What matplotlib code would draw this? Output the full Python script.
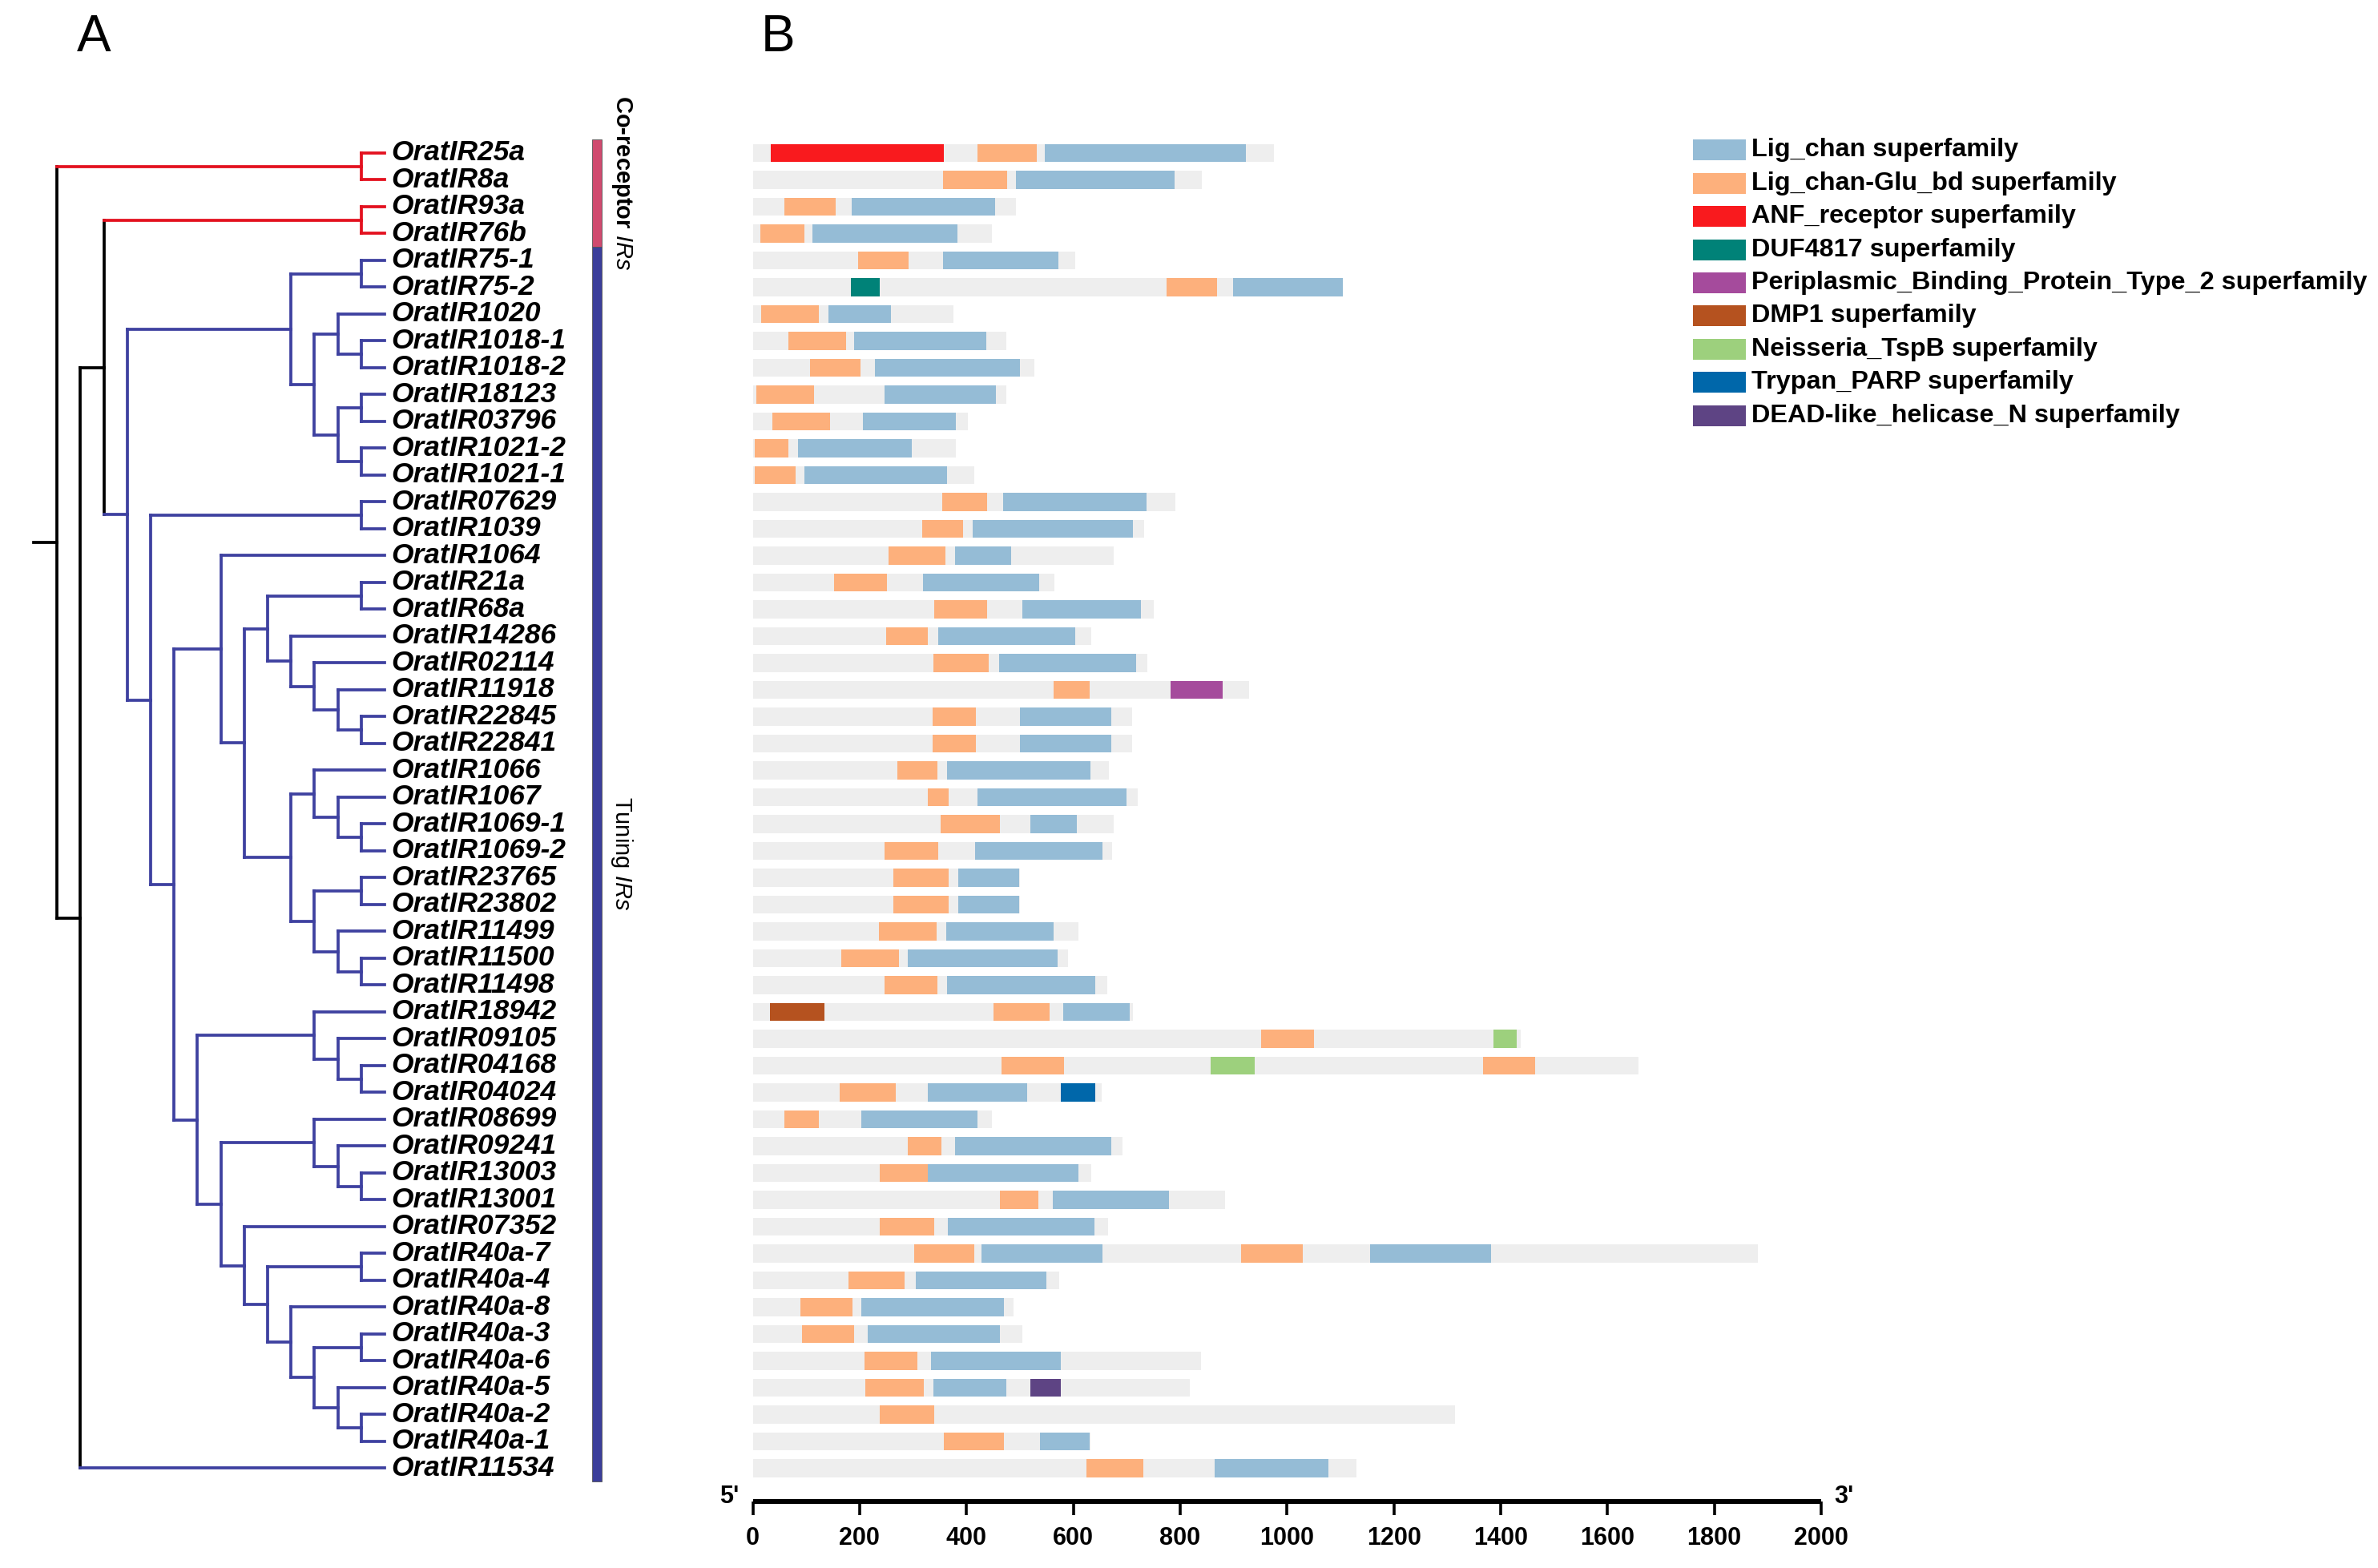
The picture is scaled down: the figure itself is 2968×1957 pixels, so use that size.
import matplotlib.pyplot as plt
from matplotlib.patches import Rectangle

plt.rcParams['font.family'] = ['Liberation Sans', 'DejaVu Sans']
plt.rcParams['mathtext.fontset'] = 'custom'
plt.rcParams['mathtext.rm'] = 'Liberation Sans'
plt.rcParams['mathtext.it'] = 'Liberation Sans:italic'

# gene order (top to bottom) and protein lengths (aa)
genes = ["25a", "8a", "93a", "76b", "75-1", "75-2", "1020", "1018-1", "1018-2",
         "18123", "03796", "1021-2", "1021-1", "07629", "1039", "1064", "21a",
         "68a", "14286", "02114", "11918", "22845", "22841", "1066", "1067",
         "1069-1", "1069-2", "23765", "23802", "11499", "11500", "11498",
         "18942", "09105", "04168", "04024", "08699", "09241", "13003", "13001",
         "07352", "40a-7", "40a-4", "40a-8", "40a-3", "40a-6", "40a-5", "40a-2",
         "40a-1", "11534"]
lengths = [976, 840, 492, 448, 604, 1105, 376, 475, 527, 475, 403, 380, 415,
           791, 733, 675, 565, 751, 634, 739, 929, 710, 710, 667, 720, 675, 673,
           500, 500, 610, 590, 663, 711, 1437, 1658, 653, 447, 692, 633, 884,
           665, 1881, 574, 488, 505, 839, 818, 1315, 632, 1130]
co_receptor = ["25a", "8a", "93a", "76b"]

# domains: (gene, start, end)
lig_chan = [("25a", 547, 923), ("8a", 493, 790), ("93a", 185, 454), ("76b", 112, 383),
            ("75-1", 356, 572), ("75-2", 899, 1105), ("1020", 142, 259),
            ("1018-1", 189, 437), ("1018-2", 229, 500), ("18123", 247, 455),
            ("03796", 206, 380), ("1021-2", 84, 298), ("1021-1", 97, 363),
            ("07629", 469, 737), ("1039", 412, 711), ("1064", 379, 483),
            ("21a", 319, 536), ("68a", 505, 727), ("14286", 347, 604),
            ("02114", 461, 718), ("22845", 500, 671), ("22841", 500, 671),
            ("1066", 363, 632), ("1067", 421, 700), ("1069-1", 519, 607),
            ("1069-2", 416, 655), ("23765", 385, 499), ("23802", 385, 499),
            ("11499", 362, 563), ("11500", 290, 571), ("11498", 364, 641),
            ("18942", 581, 706), ("04024", 327, 513), ("08699", 203, 420),
            ("09241", 379, 671), ("13003", 327, 610), ("13001", 561, 779),
            ("07352", 365, 639), ("40a-7", 428, 655), ("40a-7", 1156, 1382),
            ("40a-4", 305, 549), ("40a-8", 203, 470), ("40a-3", 215, 462),
            ("40a-6", 333, 577), ("40a-5", 338, 474), ("40a-1", 538, 631),
            ("11534", 864, 1078)]
glu_bd = [("25a", 421, 531), ("8a", 356, 476), ("93a", 59, 155), ("76b", 14, 96),
          ("75-1", 197, 292), ("75-2", 775, 869), ("1020", 15, 123),
          ("1018-1", 67, 174), ("1018-2", 107, 201), ("18123", 6, 115),
          ("03796", 37, 145), ("1021-2", 4, 67), ("1021-1", 4, 80),
          ("07629", 354, 439), ("1039", 317, 394), ("1064", 254, 361),
          ("21a", 152, 251), ("68a", 339, 438), ("14286", 250, 328),
          ("02114", 338, 442), ("11918", 563, 630), ("22845", 336, 418),
          ("22841", 336, 418), ("1066", 270, 346), ("1067", 328, 366),
          ("1069-1", 351, 463), ("1069-2", 247, 347), ("23765", 263, 366),
          ("23802", 263, 366), ("11499", 236, 344), ("11500", 165, 273),
          ("11498", 247, 346), ("18942", 450, 556), ("09105", 951, 1050),
          ("04168", 466, 582), ("04168", 1367, 1465), ("04024", 163, 268),
          ("08699", 59, 124), ("09241", 290, 353), ("13003", 238, 327),
          ("13001", 462, 535), ("07352", 238, 339), ("40a-7", 302, 414),
          ("40a-7", 914, 1030), ("40a-4", 179, 284), ("40a-8", 89, 187),
          ("40a-3", 92, 190), ("40a-6", 209, 308), ("40a-5", 211, 320),
          ("40a-2", 238, 339), ("40a-1", 357, 470), ("11534", 624, 731)]
anf_receptor = [("25a", 34, 357)]
duf4817 = [("75-2", 184, 237)]
periplasmic = [("11918", 782, 880)]
dmp1 = [("18942", 32, 134)]
neisseria = [("09105", 1387, 1430), ("04168", 857, 940)]
trypan_parp = [("04024", 577, 641)]
dead_helicase = [("40a-5", 519, 577)]

families = [
    ("Lig_chan superfamily", "#95bcd6", lig_chan),
    ("Lig_chan-Glu_bd superfamily", "#fdb07c", glu_bd),
    ("ANF_receptor superfamily", "#f91a1e", anf_receptor),
    ("DUF4817 superfamily", "#008278", duf4817),
    ("Periplasmic_Binding_Protein_Type_2 superfamily", "#a54b9c", periplasmic),
    ("DMP1 superfamily", "#b5521f", dmp1),
    ("Neisseria_TspB superfamily", "#9dd07d", neisseria),
    ("Trypan_PARP superfamily", "#0067aa", trypan_parp),
    ("DEAD-like_helicase_N superfamily", "#5e4484", dead_helicase),
]

# phylogeny (cladogram), built from its subclades
ir1018_group = (("1020", ("1018-1", "1018-2")),
                (("18123", "03796"), ("1021-2", "1021-1")))
ir75_group = (("75-1", "75-2"), ir1018_group)
ir22845_group = (("21a", "68a"),
                 ("14286", ("02114", ("11918", ("22845", "22841")))))
ir1066_group = (("1066", ("1067", ("1069-1", "1069-2"))),
                (("23765", "23802"), ("11499", ("11500", "11498"))))
ir1064_group = ("1064", (ir22845_group, ir1066_group))
ir18942_group = ("18942", ("09105", ("04168", "04024")))
ir08699_group = ("08699", ("09241", ("13003", "13001")))
ir40a_group = ("07352", (("40a-7", "40a-4"),
                         ("40a-8", (("40a-3", "40a-6"),
                                    ("40a-5", ("40a-2", "40a-1"))))))
ir07629_group = (("07629", "1039"),
                 (ir1064_group, (ir18942_group, (ir08699_group, ir40a_group))))
tuning_group = (ir75_group, ir07629_group)
tree = (("25a", "8a"), ((("93a", "76b"), tuning_group), "11534"))

RED = "#e3111f"
BLUE = "#3e41a0"
row = {g: i for i, g in enumerate(genes)}
n = len(genes)

fig = plt.figure(figsize=(29.68, 19.57), dpi=100)
W, H = 2968.0, 1957.0
y_top, y_bot = 157.5, 1874.0
ylim = (n - 1 + (y_bot - 1832.5) / 33.5, -1)
bottom = 1 - y_bot / H
height = (y_bot - y_top) / H

# ---- tree panel ----
step = 29.2
leaf_px = 480.0
tax = fig.add_axes([0, bottom, 940 / W, height])
tax.set_xlim(-leaf_px / step, (940 - leaf_px) / step)
tax.set_ylim(*ylim)
tax.axis('off')
lw = 2.7


def draw(node):
    if isinstance(node, str):
        return row[node], 0, (RED if node in co_receptor else BLUE)
    kids = [draw(c) for c in node]
    h = max(k[1] for k in kids) + 1
    ys = [k[0] for k in kids]
    col = kids[0][2] if all(k[2] == kids[0][2] for k in kids) else "black"
    tax.plot([-h, -h], [min(ys), max(ys)], color=col, lw=lw, solid_capstyle='projecting')
    for ky, kh, kc in kids:
        tax.plot([-h, -kh], [ky, ky], color=kc, lw=lw, solid_capstyle='projecting')
    return (min(ys) + max(ys)) / 2, h, col


ry, rh, _ = draw(tree)
tax.plot([-rh - 1, -rh], [ry, ry], color="black", lw=lw, solid_capstyle='projecting')

for g in genes:
    tax.text(8 / step, row[g], "OratIR" + g, ha='left', va='center',
             fontsize=25.5, fontweight='bold', fontstyle='italic')

# group bars
bx0 = (739 - leaf_px) / step
bw = 12 / step
nco = len(co_receptor)
tax.add_patch(Rectangle((bx0, -0.5), bw, nco, facecolor="#d04a6f",
                        edgecolor="#555555", lw=0.6))
tax.add_patch(Rectangle((bx0, nco - 0.5), bw, n - nco, facecolor="#3b3e9a",
                        edgecolor="#555555", lw=0.6))
tx = (776 - leaf_px) / step
tax.text(tx, (nco - 1) / 2 - 0.4, r"Co-receptor $\mathit{IRs}$", rotation=-90,
         ha='center', va='center', fontsize=21, fontweight='bold')
tax.text(tx, (nco + n - 1) / 2 - 0.4, r"Tuning $\mathit{IRs}$", rotation=-90,
         ha='center', va='center', fontsize=21)

# ---- domain panel ----
x0, x1 = 939.5, 2273.0
dax = fig.add_axes([x0 / W, bottom, (x1 - x0) / W, height])
dax.set_xlim(0, 2000)
dax.set_ylim(*ylim)
bh = 0.66
dax.barh([row[g] for g in genes], lengths, left=0, height=bh, color="#eeeeee", lw=0)
for name, col, doms in families:
    dax.barh([row[d[0]] for d in doms], [d[2] - d[1] for d in doms],
             left=[d[1] for d in doms], height=bh, color=col, lw=0)

for s in ['left', 'top', 'right']:
    dax.spines[s].set_visible(False)
dax.spines['bottom'].set_linewidth(4.3)
dax.spines['bottom'].set_capstyle('butt')
dax.set_yticks([])
dax.set_xticks(range(0, 2001, 200))
dax.tick_params(axis='x', length=12, width=2.6, pad=10, labelsize=22)
for lab in dax.get_xticklabels():
    lab.set_fontweight('bold')
dax.annotate("5'", xy=(0, 0), xycoords='axes fraction', xytext=(-12, 4),
             textcoords='offset points', ha='right', va='center',
             fontsize=22, fontweight='bold')
dax.annotate("3'", xy=(1, 0), xycoords='axes fraction', xytext=(12, 4),
             textcoords='offset points', ha='left', va='center',
             fontsize=22, fontweight='bold')

# ---- legend ----
for k, (name, col, _) in enumerate(families):
    yc = 187.4 + k * 41.4
    fig.patches.append(Rectangle((2113 / W, 1 - (yc + 13) / H), 66 / W, 26 / H,
                                 transform=fig.transFigure, color=col, lw=0))
    fig.text(2186 / W, 1 - yc / H, name, ha='left', va='center',
             fontsize=23.3, fontweight='bold')

fig.text(117 / W, 1 - 47 / H, "A", ha='center', va='center', fontsize=46)
fig.text(971 / W, 1 - 47 / H, "B", ha='center', va='center', fontsize=46)

fig.savefig("out.png", dpi=100)
